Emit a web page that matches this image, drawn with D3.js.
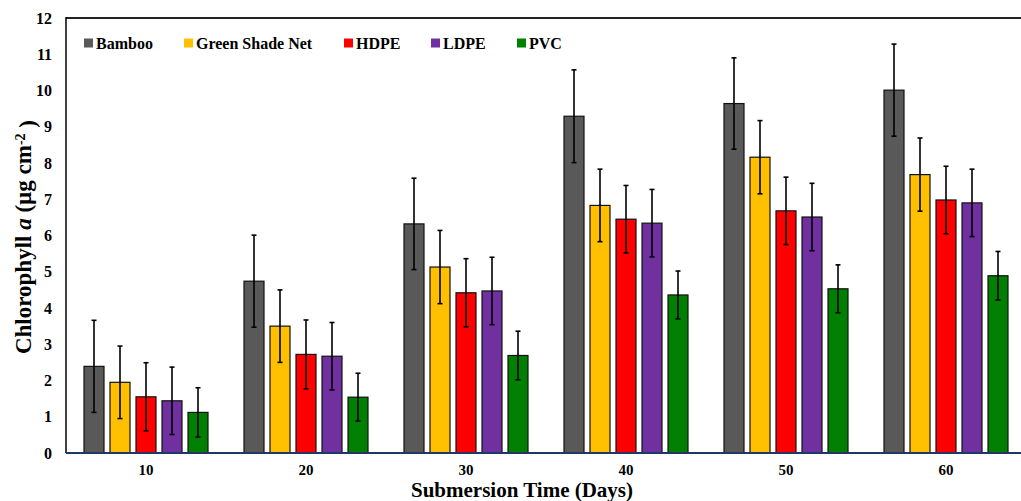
<!DOCTYPE html>
<html>
<head>
<meta charset="utf-8">
<script src="https://cdn.jsdelivr.net/npm/d3@7"></script>
<style>
  body { margin: 0; background: #fff; }
  text { font-family: "Liberation Serif", "Times New Roman", serif; font-weight: bold; fill: #000; }
</style>
</head>
<body>
<svg id="chart" width="1021" height="501"></svg>
<script>
// data
var days = ['10', '20', '30', '40', '50', '60'];
var series = ['Bamboo', 'Green Shade Net', 'HDPE', 'LDPE', 'PVC'];
var colors = ['#595959', '#FFC000', '#FF0000', '#7030A0', '#008000'];

var bamboo = [2.39, 4.74, 6.32, 9.29, 9.64, 10.01];
var shadeNet = [1.95, 3.50, 5.13, 6.83, 8.16, 7.68];
var hdpe = [1.55, 2.72, 4.42, 6.45, 6.68, 6.98];
var ldpe = [1.44, 2.67, 4.47, 6.34, 6.51, 6.90];
var pvc = [1.12, 1.54, 2.69, 4.36, 4.53, 4.89];

var bambooErr = [1.27, 1.27, 1.26, 1.28, 1.26, 1.27];
var shadeNetErr = [1.00, 1.00, 1.01, 1.00, 1.01, 1.01];
var hdpeErr = [0.94, 0.95, 0.94, 0.93, 0.93, 0.93];
var ldpeErr = [0.93, 0.93, 0.93, 0.93, 0.93, 0.93];
var pvcErr = [0.68, 0.66, 0.67, 0.66, 0.66, 0.67];

var yTicks = [0, 1, 2, 3, 4, 5, 6, 7, 8, 9, 10, 11, 12];

var values = [bamboo, shadeNet, hdpe, ldpe, pvc];
var errors = [bambooErr, shadeNetErr, hdpeErr, ldpeErr, pvcErr];

var rows = [];
days.forEach(function(d, i) {
    series.forEach(function(s, j) {
        rows.push({ day: d, series: s, color: colors[j], value: values[j][i], err: errors[j][i] });
    });
});

var svg = d3.select('#chart');

var plotLeft = 66, plotRight = 1026, plotTop = 18, plotBottom = 453;

var x0 = d3.scaleBand().domain(days).range([plotLeft, plotRight]);
var x1 = d3.scaleBand().domain(series).range([15, 145]).paddingInner(0.2308).paddingOuter(0.1154);
var y = d3.scaleLinear().domain([0, 12]).range([plotBottom, plotTop]);

// top frame
svg.append('line')
    .attr('x1', plotLeft).attr('x2', 1021)
    .attr('y1', plotTop).attr('y2', plotTop)
    .attr('stroke', '#222').attr('stroke-width', 2);

// y axis labels
svg.append('g')
    .selectAll('text')
    .data(yTicks)
    .enter().append('text')
    .attr('x', 52)
    .attr('y', function(d) { return y(d); })
    .attr('dy', '0.35em')
    .attr('text-anchor', 'end')
    .style('font-size', '16px')
    .text(function(d) { return d; });

// bars
svg.append('g')
    .selectAll('rect')
    .data(rows)
    .enter().append('rect')
    .attr('x', function(d) { return x0(d.day) + x1(d.series); })
    .attr('y', function(d) { return y(d.value); })
    .attr('width', x1.bandwidth())
    .attr('height', function(d) { return y(0) - y(d.value); })
    .attr('fill', function(d) { return d.color; })
    .attr('stroke', '#111')
    .attr('stroke-width', 1.2);

// error bars
var eb = svg.append('g')
    .selectAll('g')
    .data(rows)
    .enter().append('g')
    .attr('stroke', '#000')
    .attr('stroke-width', 1.6);

function cx(d) { return x0(d.day) + x1(d.series) + x1.bandwidth() / 2; }

eb.append('line')
    .attr('x1', cx).attr('x2', cx)
    .attr('y1', function(d) { return y(d.value + d.err); })
    .attr('y2', function(d) { return y(d.value - d.err); });
eb.append('line')
    .attr('x1', function(d) { return cx(d) - 2.5; })
    .attr('x2', function(d) { return cx(d) + 2.5; })
    .attr('y1', function(d) { return y(d.value + d.err); })
    .attr('y2', function(d) { return y(d.value + d.err); });
eb.append('line')
    .attr('x1', function(d) { return cx(d) - 2.5; })
    .attr('x2', function(d) { return cx(d) + 2.5; })
    .attr('y1', function(d) { return y(d.value - d.err); })
    .attr('y2', function(d) { return y(d.value - d.err); });

// axes lines
svg.append('line')
    .attr('x1', plotLeft).attr('x2', plotLeft)
    .attr('y1', plotTop - 1).attr('y2', plotBottom)
    .attr('stroke', '#000').attr('stroke-width', 1.5);
svg.append('line')
    .attr('x1', plotLeft).attr('x2', 1021)
    .attr('y1', plotBottom).attr('y2', plotBottom)
    .attr('stroke', '#1F3864').attr('stroke-width', 2);

// x labels
svg.append('g')
    .selectAll('text')
    .data(days)
    .enter().append('text')
    .attr('x', function(d) { return x0(d) + x0.bandwidth() / 2; })
    .attr('y', 475)
    .attr('text-anchor', 'middle')
    .style('font-size', '15px')
    .text(function(d) { return d; });

// axis titles
svg.append('text')
    .attr('x', 522)
    .attr('y', 497)
    .attr('text-anchor', 'middle')
    .style('font-size', '21px')
    .text('Submersion Time (Days)');

var yl = svg.append('text')
    .attr('transform', 'translate(31,237) rotate(-90)')
    .attr('text-anchor', 'middle')
    .style('font-size', '23px');
yl.append('tspan').text('Chlorophyll ');
yl.append('tspan').style('font-style', 'italic').text('a');
yl.append('tspan').text(' (µg cm');
yl.append('tspan').attr('dy', '-0.45em').style('font-size', '14px').text('-2');
yl.append('tspan').attr('dy', '0.45em').text(' )');

// legend
var legendX = [84, 184, 344, 431, 517];
var lg = svg.append('g')
    .selectAll('g')
    .data(series)
    .enter().append('g')
    .attr('transform', function(d, i) { return 'translate(' + legendX[i] + ',43)'; });
lg.append('rect')
    .attr('x', 0).attr('y', -4.5)
    .attr('width', 9).attr('height', 9)
    .attr('fill', function(d, i) { return colors[i]; });
lg.append('text')
    .attr('x', 12)
    .attr('dy', '0.35em')
    .style('font-size', '16px')
    .text(function(d) { return d; });
</script>
</body>
</html>
